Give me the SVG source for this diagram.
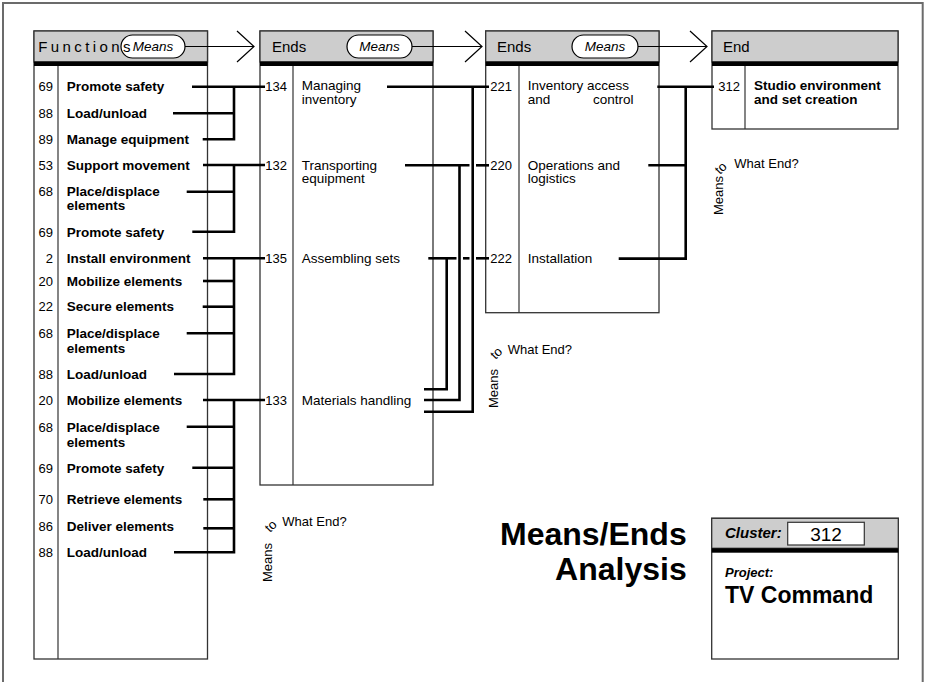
<svg xmlns="http://www.w3.org/2000/svg" width="925" height="682" viewBox="0 0 925 682">
<style>
text{font-family:"Liberation Sans",Arial,Helvetica,sans-serif;fill:#000}
.frame{fill:none;stroke:#6b6b6b;stroke-width:2}
.box{fill:#fff;stroke:#333;stroke-width:1.3}
.head{fill:#cdcdcd;stroke:#333;stroke-width:1.3}
.band{fill:#000}
.div{stroke:#333;stroke-width:1.2}
.ht{font-size:15px}
.pill{fill:#fff;stroke:#000;stroke-width:1.2}
.pt{font-size:13.5px;font-style:italic;text-anchor:middle}
.flow{fill:none;stroke:#000;stroke-width:1.2}
.num{font-size:13px;text-anchor:end}
.fn{font-size:13.5px;font-weight:bold}
.en{font-size:13.5px}
.wire{fill:none;stroke:#000;stroke-width:2.6}
.ask{font-size:13px}
</style>
<defs>
<path id="chev" class="flow" d="M-17 -15.5 L0 0 L-17 15.5"/>
</defs>

<path class="frame" d="M3 682 V3 H922.7 V682"/>

<!-- Functions column -->
<g id="functions">
<rect class="box" x="34" y="31" width="173.5" height="628"/>
<rect class="head" x="34" y="31" width="173.5" height="31"/>
<rect class="band" x="34" y="61.5" width="173.5" height="4.5"/>
<line class="div" x1="58" y1="66" x2="58" y2="659"/>
<rect class="pill" x="121" y="35" width="64" height="23" rx="11.5"/>
<text class="ht" x="38.3" y="52.3" letter-spacing="3.4">Functions</text>
<text class="pt" x="153" y="51">Means</text>
<text class="num" x="53" y="91">69</text><text class="fn" x="66.7" y="91">Promote safety</text>
<text class="num" x="53" y="118">88</text><text class="fn" x="66.7" y="118">Load/unload</text>
<text class="num" x="53" y="143.5">89</text><text class="fn" x="66.7" y="143.5">Manage equipment</text>
<text class="num" x="53" y="170">53</text><text class="fn" x="66.7" y="170">Support movement</text>
<text class="num" x="53" y="195.5">68</text><text class="fn" x="66.7" y="195.5">Place/displace<tspan x="66.7" dy="14.5">elements</tspan></text>
<text class="num" x="53" y="237">69</text><text class="fn" x="66.7" y="237">Promote safety</text>
<text class="num" x="53" y="263">2</text><text class="fn" x="66.7" y="263">Install environment</text>
<text class="num" x="53" y="286">20</text><text class="fn" x="66.7" y="286">Mobilize elements</text>
<text class="num" x="53" y="311">22</text><text class="fn" x="66.7" y="311">Secure elements</text>
<text class="num" x="53" y="338">68</text><text class="fn" x="66.7" y="338">Place/displace<tspan x="66.7" dy="14.5">elements</tspan></text>
<text class="num" x="53" y="378.5">88</text><text class="fn" x="66.7" y="378.5">Load/unload</text>
<text class="num" x="53" y="405">20</text><text class="fn" x="66.7" y="405">Mobilize elements</text>
<text class="num" x="53" y="432">68</text><text class="fn" x="66.7" y="432">Place/displace<tspan x="66.7" dy="14.5">elements</tspan></text>
<text class="num" x="53" y="473">69</text><text class="fn" x="66.7" y="473">Promote safety</text>
<text class="num" x="53" y="503.5">70</text><text class="fn" x="66.7" y="503.5">Retrieve elements</text>
<text class="num" x="53" y="531">86</text><text class="fn" x="66.7" y="531">Deliver elements</text>
<text class="num" x="53" y="556.5">88</text><text class="fn" x="66.7" y="556.5">Load/unload</text>
</g>

<!-- First Ends column -->
<g id="ends-1">
<rect class="box" x="260" y="31" width="173" height="454"/>
<rect class="head" x="260" y="31" width="173" height="31"/>
<rect class="band" x="260" y="61.5" width="173" height="4.5"/>
<line class="div" x1="293" y1="66" x2="293" y2="485"/>
<text class="ht" x="272" y="52.3">Ends</text>
<rect class="pill" x="347" y="35" width="65" height="23" rx="11.5"/>
<text class="pt" x="379.5" y="51">Means</text>
<text class="num" x="287" y="91">134</text><text class="en" x="301.7" y="90.3">Managing<tspan x="301.7" dy="13.5">inventory</tspan></text>
<text class="num" x="287" y="170">132</text><text class="en" x="301.7" y="169.5">Transporting<tspan x="301.7" dy="13.5">equipment</tspan></text>
<text class="num" x="287" y="263">135</text><text class="en" x="301.7" y="263">Assembling sets</text>
<text class="num" x="287" y="405">133</text><text class="en" x="301.7" y="405">Materials handling</text>
</g>

<!-- Second Ends column -->
<g id="ends-2">
<rect class="box" x="485.7" y="31" width="173.3" height="281.7"/>
<rect class="head" x="485.7" y="31" width="173.3" height="31"/>
<rect class="band" x="485.7" y="61.5" width="173.3" height="4.5"/>
<line class="div" x1="519" y1="66" x2="519" y2="312.7"/>
<text class="ht" x="497" y="52.3">Ends</text>
<rect class="pill" x="572" y="35" width="66" height="23" rx="11.5"/>
<text class="pt" x="605" y="51">Means</text>
<text class="num" x="512" y="91">221</text><text class="en" x="527.7" y="90.3">Inventory access<tspan x="527.7" dy="13.5">and</tspan><tspan x="593">control</tspan></text>
<text class="num" x="512" y="170">220</text><text class="en" x="527.7" y="169.5">Operations and<tspan x="527.7" dy="13.5">logistics</tspan></text>
<text class="num" x="512" y="263">222</text><text class="en" x="527.7" y="263">Installation</text>
</g>

<!-- End column -->
<g id="end">
<rect class="box" x="712" y="31" width="186" height="98"/>
<rect class="head" x="712" y="31" width="186" height="31"/>
<rect class="band" x="712" y="61.5" width="186" height="4.5"/>
<line class="div" x1="745" y1="66" x2="745" y2="129"/>
<text class="ht" x="723" y="52.3">End</text>
<text class="num" x="740" y="91">312</text><text class="fn" x="754" y="90.3">Studio environment<tspan x="754" dy="13.5">and set creation</tspan></text>
</g>

<!-- Means flow arrows between headers -->
<g id="header-flow">
<path class="flow" d="M185 46.5 H254"/><use href="#chev" x="254" y="46.5"/>
<path class="flow" d="M412 46.5 H482"/><use href="#chev" x="482" y="46.5"/>
<path class="flow" d="M638 46.5 H707"/><use href="#chev" x="707" y="46.5"/>
</g>

<!-- Connectors -->
<g id="connectors" class="wire">
<path d="M192 86.7 H265"/>
<path d="M173 113.3 H234"/>
<path d="M202.7 139.3 H234 V86.7"/>
<path d="M203 165 H265"/>
<path d="M186.7 191.7 H234"/>
<path d="M192.3 231.7 H234 V165"/>
<path d="M203 258.3 H265"/>
<path d="M203 281 H234"/>
<path d="M202.7 306.7 H234"/>
<path d="M186.7 333.3 H234"/>
<path d="M174 374 H234 V258.3"/>
<path d="M203 400 H265"/>
<path d="M186.7 426.7 H234"/>
<path d="M192.3 467.7 H234"/>
<path d="M203.3 499.3 H234"/>
<path d="M203.3 528.3 H234"/>
<path d="M174 552.3 H234 V400"/>

<path d="M387 86.7 H489"/>
<path d="M405 165.3 H469.5"/>
<path d="M476 165.3 H489"/>
<path d="M428.3 258.3 H456.5"/>
<path d="M463 258.3 H469.5"/>
<path d="M476 258.3 H489"/>
<path d="M424 389.3 H446.7 V258.3"/>
<path d="M424 400 H459.5 V165.3"/>
<path d="M424 411.7 H472.7 V86.7"/>

<path d="M657.3 86.7 H714"/>
<path d="M648.3 165.3 H685.7"/>
<path d="M618.7 258.6 H685.7 V86.7"/>
</g>

<!-- "Means to What End?" captions -->
<g id="ask-1">
<text class="ask" transform="translate(271.7,582) rotate(-90)">Means</text>
<text class="ask" transform="translate(270,533) rotate(-45)">to</text>
<text class="ask" x="282.3" y="526">What End?</text>
</g>
<g id="ask-2">
<text class="ask" transform="translate(498,408) rotate(-90)">Means</text>
<text class="ask" transform="translate(495.5,360) rotate(-45)">to</text>
<text class="ask" x="507.7" y="354">What End?</text>
</g>
<g id="ask-3">
<text class="ask" transform="translate(723,215) rotate(-90)">Means</text>
<text class="ask" transform="translate(720,175) rotate(-45)">to</text>
<text class="ask" x="734.3" y="168">What End?</text>
</g>

<!-- Title -->
<g id="title" font-weight="bold" font-size="32" text-anchor="end">
<text x="686.7" y="545">Means/Ends</text>
<text x="686.7" y="580">Analysis</text>
</g>

<!-- Cluster card -->
<g id="cluster">
<rect class="box" x="711.7" y="518.3" width="186.6" height="140.7"/>
<rect class="head" x="711.7" y="518.3" width="186.6" height="30"/>
<rect class="band" x="711.7" y="548.3" width="186.6" height="4.4"/>
<text x="725" y="538.3" font-size="15" font-weight="bold" font-style="italic">Cluster:</text>
<rect x="787.7" y="522.3" width="76.6" height="22.7" fill="#fff" stroke="#333" stroke-width="1.2"/>
<text x="826" y="540.7" font-size="19" text-anchor="middle">312</text>
<text x="725" y="576.7" font-size="13" font-weight="bold" font-style="italic">Project:</text>
<text x="725" y="603.3" font-size="23" font-weight="bold">TV Command</text>
</g>
</svg>
